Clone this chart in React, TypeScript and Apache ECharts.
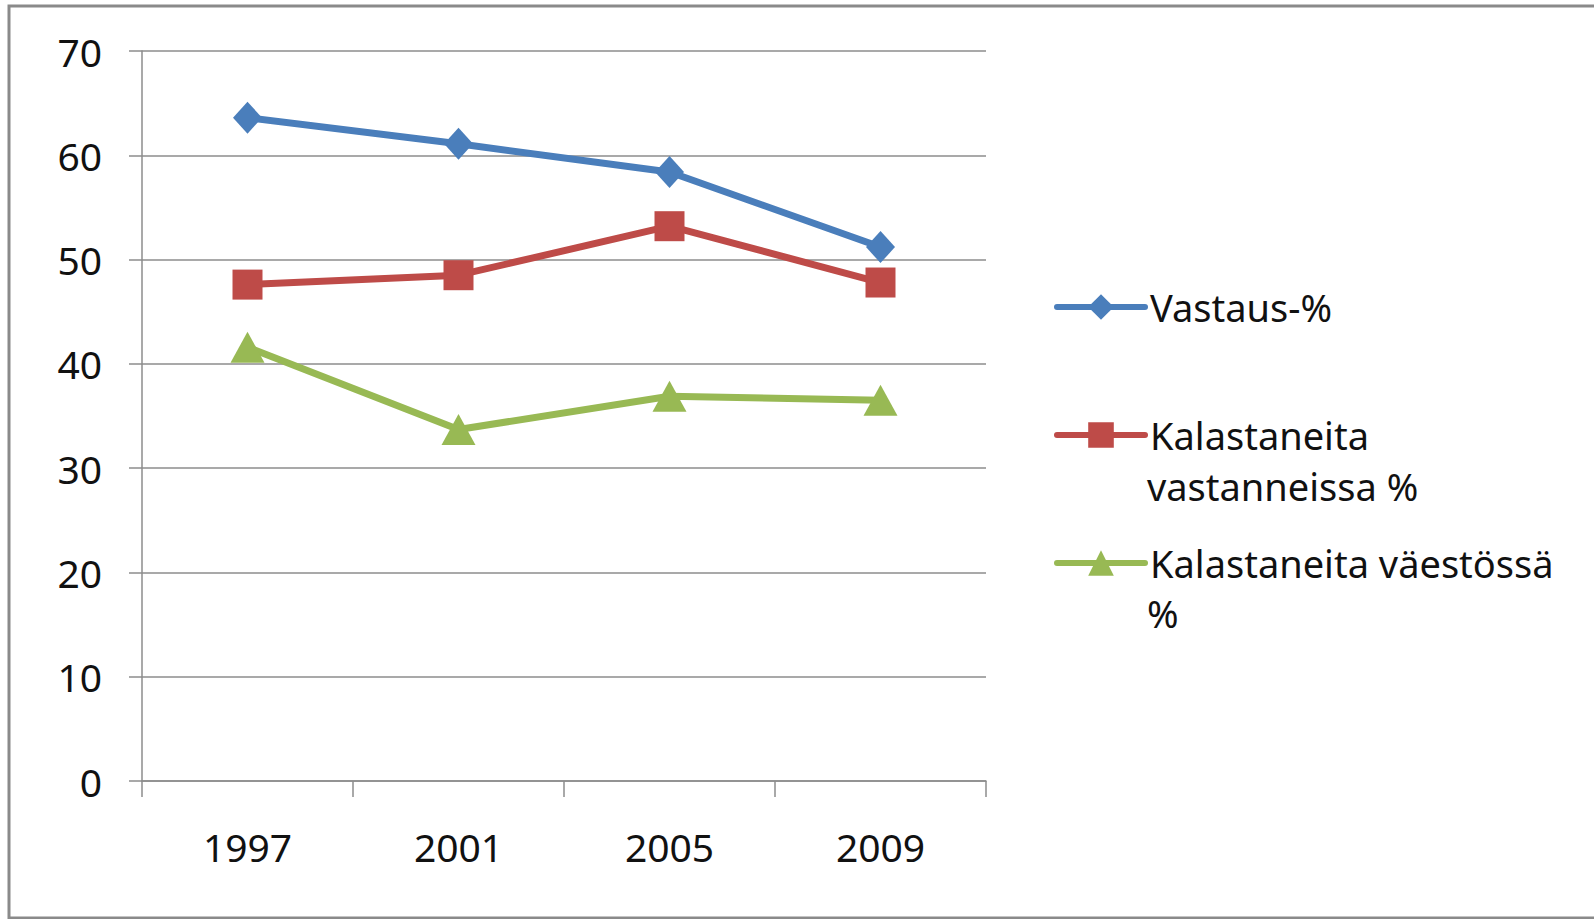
import React, { useEffect, useRef } from "react";
import * as echarts from "echarts";

const years = ["1997", "2001", "2005", "2009"];
const vastaus = [63.6, 61.1, 58.4, 51.2];
const kalastaneitaVastanneissa = [47.6, 48.5, 53.2, 47.8];
const kalastaneitaVaestossa = [41.6, 33.7, 36.9, 36.5];

const seriesNames = ["Vastaus-%", "Kalastaneita vastanneissa %", "Kalastaneita väestössä %"];
const legendFirstLines = ["Vastaus-%", "Kalastaneita", "Kalastaneita väestössä"];
const legendSecondLines = ["", "vastanneissa %", "%"];
const colors = ["#4A7EBB", "#BE4B48", "#98B954"];

const FONT = '"Noto Sans", "Open Sans", sans-serif';

export default function App() {
  const ref = useRef<HTMLDivElement>(null);
  useEffect(() => {
    if (!ref.current) return;
    const chart = echarts.init(ref.current, undefined, { renderer: "svg" });
    const axisColor = "#8c8c8c";
    const seriesData = [vastaus, kalastaneitaVastanneissa, kalastaneitaVaestossa];
    const symbols = ["diamond", "rect", "triangle"];
    const symbolSizes: any[] = [[29, 32], 30, [34, 31]];
    chart.setOption({
      animation: false,
      backgroundColor: "#ffffff",
      grid: { left: 142, right: 608, top: 51, bottom: 138, containLabel: false },
      xAxis: {
        type: "category",
        data: years,
        boundaryGap: true,
        axisLine: { show: true, lineStyle: { color: axisColor, width: 1.5 } },
        axisTick: { show: true, length: 16, lineStyle: { color: axisColor, width: 1.5 } },
        axisLabel: { color: "#111", fontSize: 39, fontFamily: FONT, margin: 46 },
        splitLine: { show: false },
      },
      yAxis: {
        type: "value",
        min: 0,
        max: 70,
        interval: 10,
        axisLine: { show: true, lineStyle: { color: axisColor, width: 1.5 } },
        axisTick: { show: true, length: 13, lineStyle: { color: axisColor, width: 1.5 } },
        axisLabel: { color: "#111", fontSize: 39, fontFamily: FONT, margin: 40 },
        splitLine: { show: true, lineStyle: { color: axisColor, width: 1.5 } },
      },
      legend: {
        orient: "vertical",
        left: 1054,
        top: 287,
        padding: 0,
        itemWidth: 88,
        itemHeight: 32,
        itemGap: 88,
        data: seriesNames,
        lineStyle: { width: 6, cap: "round" },
        formatter: (name: string) => legendFirstLines[seriesNames.indexOf(name)],
        textStyle: { color: "#111", fontSize: 38, fontFamily: FONT, lineHeight: 40 },
      },
      graphic: [
        {
          type: "rect",
          silent: true,
          shape: { x: 9, y: 6, width: 1600, height: 912 },
          style: { fill: "none", stroke: "#8a8a8a", lineWidth: 3 },
        },
        {
          type: "text",
          x: 1147,
          y: 486,
          style: {
            text: legendSecondLines[1],
            fill: "#111",
            fontSize: 38,
            fontFamily: FONT,
            verticalAlign: "middle",
            lineHeight: 40,
          },
        },
        {
          type: "text",
          x: 1147,
          y: 613,
          style: {
            text: legendSecondLines[2],
            fill: "#111",
            fontSize: 38,
            fontFamily: FONT,
            verticalAlign: "middle",
            lineHeight: 40,
          },
        },
      ],
      series: seriesNames.map((name, i) => ({
        name,
        type: "line",
        data: seriesData[i],
        symbol: symbols[i],
        symbolSize: symbolSizes[i],
        showAllSymbol: true,
        lineStyle: { color: colors[i], width: 7 },
        itemStyle: { color: colors[i] },
        z: 3 - i,
      })),
    });
    return () => chart.dispose();
  }, []);
  return (
    <div
      ref={ref}
      style={{ position: "fixed", left: 0, top: 0, width: 1594, height: 919, background: "#fff" }}
    />
  );
}
